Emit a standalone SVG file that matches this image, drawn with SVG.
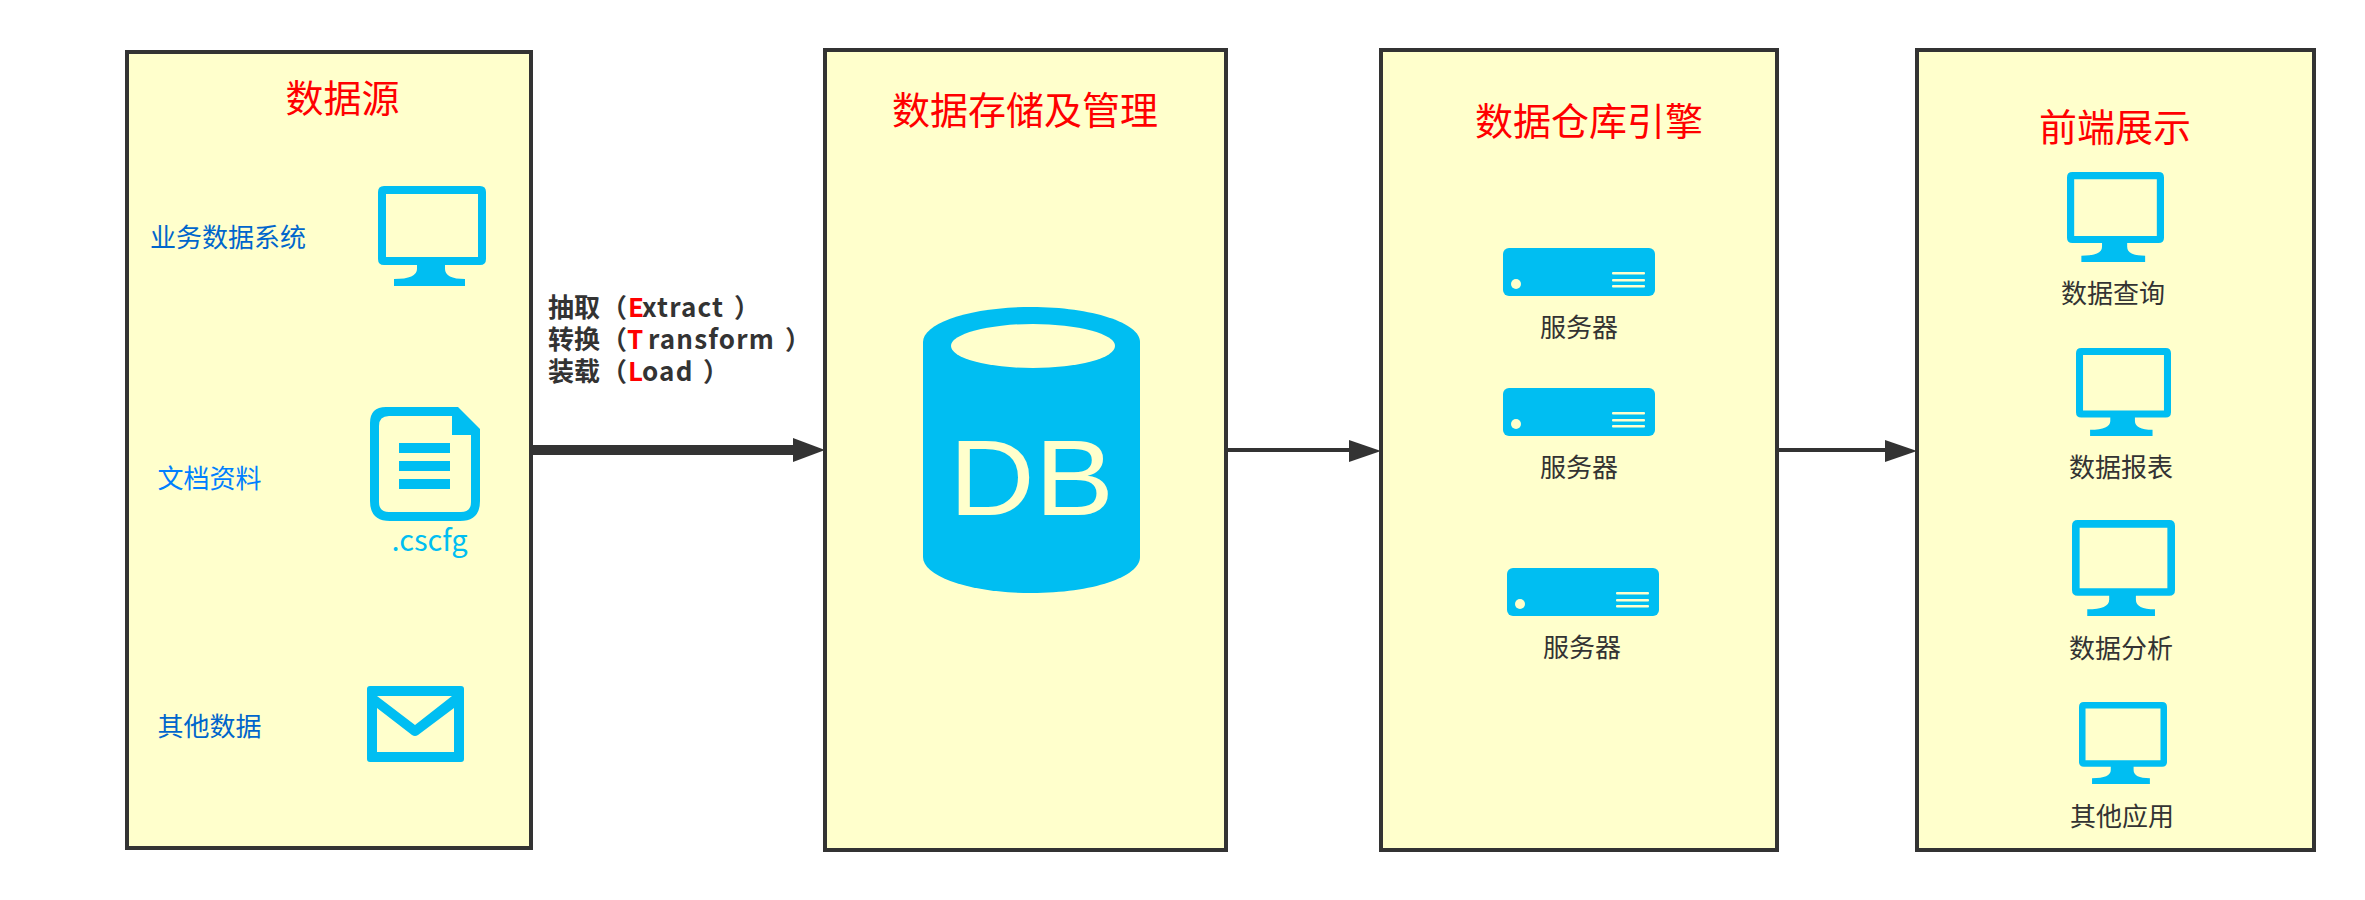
<svg xmlns="http://www.w3.org/2000/svg" width="2365" height="900" viewBox="0 0 2365 900">
<style>
text{font-family:"Noto Sans CJK SC","Noto Sans",sans-serif}
.box{fill:#ffffcc;stroke:#333;stroke-width:4}
.title{font-size:38px;fill:#ff0000}
.lbl{font-size:26px;fill:#333}
.blue{font-size:26px;fill:#0066cc}
.etl{font-size:26px;font-weight:700;fill:#333}
.red{fill:#ff0000}
.icon{fill:#00bef2}
.cut{fill:#ffffcc}
.conn{stroke:#333;fill:none}
.head{fill:#333}
</style>
<defs>
<symbol id="monitor" viewBox="0 0 108 100" preserveAspectRatio="none">
<path class="icon" fill-rule="evenodd" d="M6 0H102Q108 0 108 6V73Q108 79 102 79H67V83Q67 93 87 93V100H16V93Q39 93 39 83V79H6Q0 79 0 73V6Q0 0 6 0ZM8 8V71H100V8Z"/>
</symbol>
<symbol id="server" viewBox="0 0 152 48" preserveAspectRatio="none">
<rect class="icon" width="152" height="48" rx="6"/>
<circle class="cut" cx="13" cy="36" r="5"/>
<rect class="cut" x="109" y="24" width="33" height="2.6" rx="1"/>
<rect class="cut" x="109" y="31" width="33" height="2.6" rx="1"/>
<rect class="cut" x="109" y="37" width="33" height="2.6" rx="1"/>
</symbol>
</defs>

<g id="connectors">
<path class="conn" stroke-width="10" d="M533 450H796"/>
<polygon class="head" points="793,438 825,450 793,462"/>
<path class="conn" stroke-width="4" d="M1226 450H1352"/>
<polygon class="head" points="1349,440 1381,451 1349,462"/>
<path class="conn" stroke-width="4" d="M1777 450H1888"/>
<polygon class="head" points="1885,440 1917,451 1885,462"/>
</g>

<g id="node-source">
<rect class="box" x="127" y="52" width="404" height="796"/>
<text class="title" x="285.5" y="112">数据源</text>
<text class="blue" x="150" y="247">业务数据系统</text>
<use href="#monitor" x="378" y="186" width="108" height="100"/>
<text class="blue" x="157.500" y="488" style="fill:#007fff">文档资料</text>
<path class="icon" fill-rule="evenodd" d="M386 407H458L480 429V501Q480 521 460 521H390Q370 521 370 501V423Q370 407 386 407ZM389 416Q379 416 379 426V502Q379 512 389 512H461Q471 512 471 502V435H452V416Z"/>
<rect class="icon" x="399" y="443" width="51" height="10"/>
<rect class="icon" x="399" y="461" width="51" height="10"/>
<rect class="icon" x="399" y="479" width="51" height="10"/>
<text x="391.500" y="551" font-size="29" style="fill:#00bef2">.cscfg</text>
<text class="blue" x="157.500" y="736">其他数据</text>
<path class="icon" fill-rule="evenodd" d="M370 686H461Q464 686 464 689V759Q464 762 461 762H370Q367 762 367 759V689Q367 686 370 686ZM377 696L415 725L452 696ZM377 708V752H454V708L418 735Q415 737 412 735Z"/>
</g>

<g id="etl-label">
<text class="etl" y="317"><tspan x="548">抽取</tspan><tspan x="601">（</tspan><tspan x="628" class="red">E</tspan><tspan x="642" letter-spacing="1.2">xtract</tspan><tspan x="734">）</tspan></text>
<text class="etl" y="349"><tspan x="548">转换</tspan><tspan x="601">（</tspan><tspan x="627" class="red">T</tspan><tspan x="648" letter-spacing="1.2">ransform</tspan><tspan x="785">）</tspan></text>
<text class="etl" y="381"><tspan x="548">装载</tspan><tspan x="601">（</tspan><tspan x="628" class="red">L</tspan><tspan x="642" letter-spacing="1.2">oad</tspan><tspan x="703">）</tspan></text>
</g>

<g id="node-storage">
<rect class="box" x="825" y="50" width="401" height="800"/>
<text class="title" x="892" y="124">数据存储及管理</text>
<path class="icon" d="M923 342C923 323 971 307 1031.5 307C1092 307 1140 323 1140 342V557C1140 577 1092 593 1031.5 593C971 593 923 577 923 557Z"/>
<ellipse class="cut" cx="1033" cy="346" rx="82" ry="22"/>
<text transform="translate(949 515) scale(1.1 1)" font-size="108" style="font-family:'Liberation Sans',sans-serif;fill:#ffffcc">DB</text>
</g>

<g id="node-engine">
<rect class="box" x="1381" y="50" width="396" height="800"/>
<text class="title" x="1475" y="135">数据仓库引擎</text>
<use href="#server" x="1503" y="248" width="152" height="48"/>
<text class="lbl" x="1540" y="337">服务器</text>
<use href="#server" x="1503" y="388" width="152" height="48"/>
<text class="lbl" x="1540" y="477">服务器</text>
<use href="#server" x="1507" y="568" width="152" height="48"/>
<text class="lbl" x="1543" y="657">服务器</text>
</g>

<g id="node-frontend">
<rect class="box" x="1917" y="50" width="397" height="800"/>
<text class="title" x="2039" y="141">前端展示</text>
<use href="#monitor" x="2067" y="172" width="97" height="90"/>
<text class="lbl" x="2061" y="303">数据查询</text>
<use href="#monitor" x="2076" y="348" width="95" height="88"/>
<text class="lbl" x="2069" y="477">数据报表</text>
<use href="#monitor" x="2072" y="520" width="103" height="96"/>
<text class="lbl" x="2069" y="658">数据分析</text>
<use href="#monitor" x="2079" y="702" width="88" height="82"/>
<text class="lbl" x="2070" y="826">其他应用</text>
</g>
</svg>
